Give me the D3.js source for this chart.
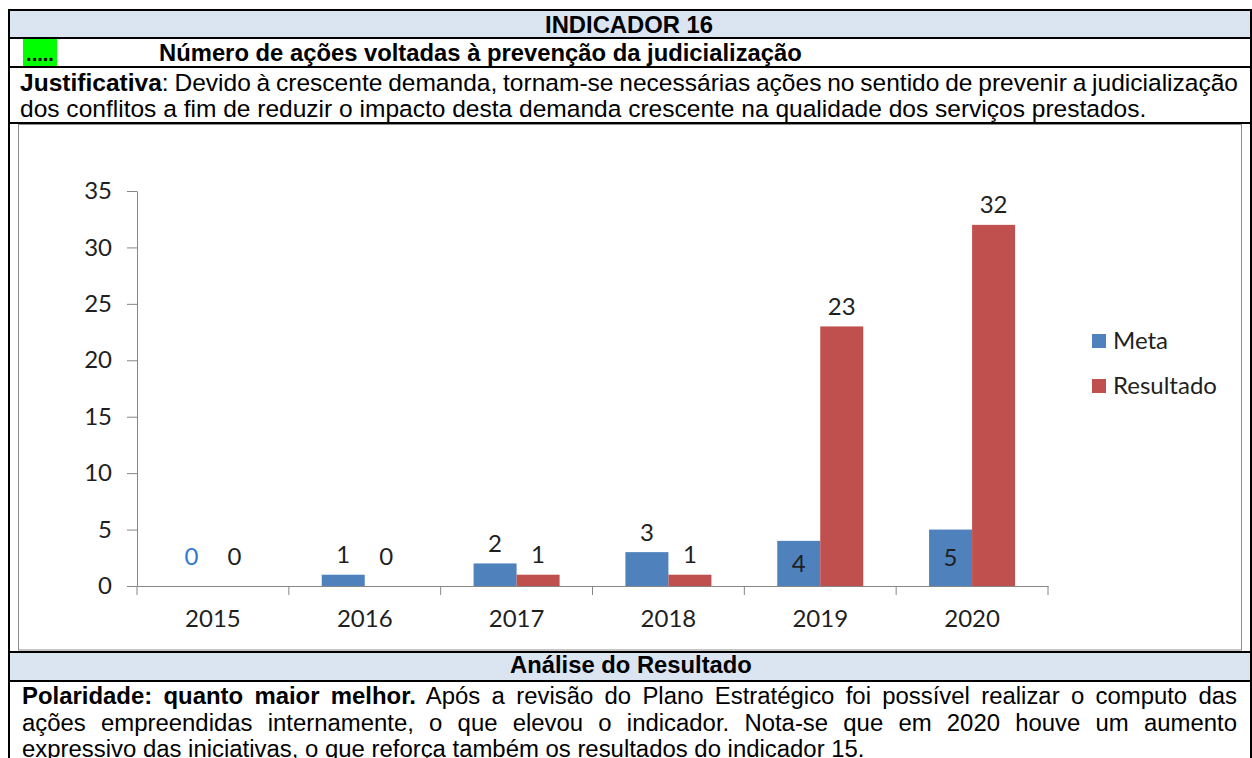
<!DOCTYPE html>
<html>
<head>
<meta charset="utf-8">
<script src="https://cdn.jsdelivr.net/npm/d3@7"></script>
<style>
  html, body { margin: 0; padding: 0; background: #fff; }
  svg { display: block; }
</style>
</head>
<body>
<div id="chart"></div>
<script>
// chart values
const years = ['2015', '2016', '2017', '2018', '2019', '2020'];
const meta = [0, 1, 2, 3, 4, 5];
const resultado = [0, 0, 1, 1, 23, 32];
const seriesNames = ['Meta', 'Resultado'];
const seriesColors = ['#4F81BD', '#C0504D'];
const yTicks = [0, 5, 10, 15, 20, 25, 30, 35];

// texts of the surrounding table
const headerTitle = 'INDICADOR 16';
const rowTitle = 'Número de ações voltadas à prevenção da judicialização';
const justLines = [
  ['Justificativa', ': Devido à crescente demanda, tornam-se necessárias ações no sentido de prevenir a judicialização'],
  ['', 'dos conflitos a fim de reduzir o impacto desta demanda crescente na qualidade dos serviços prestados.']
];
const analiseTitle = 'Análise do Resultado';
const analiseLines = [
  ['Polaridade: quanto maior melhor.', ' Após a revisão do Plano Estratégico foi possível realizar o computo das'],
  ['', 'ações empreendidas internamente, o que elevou o indicador. Nota-se que em 2020 houve um aumento'],
  ['', 'expressivo das iniciativas, o que reforça também os resultados do indicador 15.']
];

const W = 1252, H = 758;
const tableFont = '"Liberation Sans", Arial, sans-serif';
const chartFont = 'Lato, Carlito, Calibri, sans-serif';
const chartText = 24;

const svg = d3.select('#chart').append('svg')
    .attr('width', W)
    .attr('height', H);

// ---- table background and frame ----
const L = 9, R = 1251;
svg.append('rect').attr('x', L).attr('y', 10).attr('width', R - L).attr('height', 28).attr('fill', '#DBE5F1');
svg.append('rect').attr('x', L).attr('y', 652).attr('width', R - L).attr('height', 29).attr('fill', '#DBE5F1');
svg.append('rect').attr('x', 23).attr('y', 39).attr('width', 34).attr('height', 27).attr('fill', '#00FF00');

// inner chart frame
svg.append('rect')
    .attr('x', 18.5).attr('y', 124.5)
    .attr('width', 1241 - 18).attr('height', 650 - 124.5)
    .attr('fill', 'none').attr('stroke', '#8c8c8c').attr('stroke-width', 1);

const frame = svg.append('g').attr('stroke', '#000').attr('stroke-width', 2);
[10, 38, 67, 123, 652, 681].forEach(y => {
  frame.append('line').attr('x1', L - 1).attr('x2', R + 1).attr('y1', y).attr('y2', y);
});
frame.append('line').attr('x1', L).attr('x2', L).attr('y1', 9).attr('y2', H);
frame.append('line').attr('x1', R).attr('x2', R).attr('y1', 9).attr('y2', H);

// helpers for the table texts
function fitSize(sel, target) {
  const size = +sel.attr('font-size');
  const w = sel.node().getComputedTextLength();
  sel.attr('font-size', size * target / w);
}
function justify(sel, target) {
  const w = sel.node().getComputedTextLength();
  const spaces = (sel.text().match(/ /g) || []).length;
  if (spaces) sel.attr('word-spacing', (target - w) / spaces);
}
function paragraph(lines, x0, x1, last, baselines, size) {
  const texts = lines.map((ln, i) => {
    const t = svg.append('text')
        .attr('x', x0).attr('y', baselines[i])
        .attr('font-family', tableFont)
        .attr('font-size', size)
        .attr('fill', '#000');
    if (ln[0]) t.append('tspan').attr('font-weight', 'bold').text(ln[0]);
    t.append('tspan').text(ln[1]);
    return t;
  });
  // size from the last (unjustified) line, then justify the others
  const lt = texts[texts.length - 1];
  fitSize(lt, last - x0);
  const fs = lt.attr('font-size');
  texts.forEach((t, i) => {
    t.attr('font-size', fs);
    if (i < texts.length - 1) justify(t, x1 - x0);
  });
}

// header texts
const h1 = svg.append('text')
    .attr('x', 629).attr('y', 33)
    .attr('text-anchor', 'middle')
    .attr('font-family', tableFont).attr('font-weight', 'bold')
    .attr('font-size', 20).text(headerTitle);
fitSize(h1, 168);

svg.append('text')
    .attr('x', 40).attr('y', 61)
    .attr('text-anchor', 'middle')
    .attr('font-family', tableFont).attr('font-weight', 'bold')
    .attr('font-size', 20).text('.....');

const h2 = svg.append('text')
    .attr('x', 159).attr('y', 61)
    .attr('font-family', tableFont).attr('font-weight', 'bold')
    .attr('font-size', 20).text(rowTitle);
fitSize(h2, 802 - 159);

paragraph(justLines, 20, 1238, 1147, [91, 117], 20);

const h3 = svg.append('text')
    .attr('x', 631).attr('y', 673)
    .attr('text-anchor', 'middle')
    .attr('font-family', tableFont).attr('font-weight', 'bold')
    .attr('font-size', 20).text(analiseTitle);
fitSize(h3, 752 - 510);

paragraph(analiseLines, 22, 1237, 865, [704, 731, 757], 20);

// ---- bar chart ----
const y = d3.scaleLinear().domain([0, 35]).range([586, 191]);
const x = d3.scaleBand().domain(years).range([137, 1048]).paddingInner(0).paddingOuter(0);
const x1 = d3.scaleBand().domain(seriesNames).range([0, x.bandwidth()]).paddingInner(0).paddingOuter(0.765);
const color = d3.scaleOrdinal().domain(seriesNames).range(seriesColors);

const rows = years.map((yr, i) => ({
  year: yr,
  values: [
    { name: 'Meta', value: meta[i], year: yr },
    { name: 'Resultado', value: resultado[i], year: yr }
  ]
}));

const chart = svg.append('g').attr('font-family', chartFont);

// y axis
const yAxis = chart.append('g')
    .attr('transform', `translate(${x.range()[0]},0)`)
    .call(d3.axisLeft(y).tickValues(yTicks).tickSize(10).tickPadding(15).tickSizeOuter(0));
yAxis.select('.domain').attr('stroke', '#868686');
yAxis.selectAll('.tick line').attr('stroke', '#868686');
yAxis.selectAll('.tick text').attr('font-size', chartText).attr('fill', '#1f1f1f').attr('font-family', chartFont);

// bars
const groups = chart.selectAll('g.year')
    .data(rows).enter().append('g')
    .attr('class', 'year')
    .attr('transform', d => `translate(${x(d.year)},0)`);

groups.selectAll('rect')
    .data(d => d.values).enter().append('rect')
    .attr('x', d => x1(d.name))
    .attr('width', x1.bandwidth())
    .attr('y', d => y(d.value))
    .attr('height', d => y(0) - y(d.value))
    .attr('fill', d => color(d.name));

// value labels
groups.selectAll('text.val')
    .data(d => d.values).enter().append('text')
    .attr('class', 'val')
    .attr('x', d => x1(d.name) + x1.bandwidth() / 2)
    .attr('y', d => {
      if (d.name === 'Meta' && d.value >= 4) return (y(d.value) + y(0)) / 2;
      return Math.min(y(d.value), y(0) - 9) - 20;
    })
    .attr('dy', '0.35em')
    .attr('text-anchor', 'middle')
    .attr('font-size', chartText)
    .attr('fill', d => (d.year === '2015' && d.name === 'Meta') ? '#2E7BD2' : '#1f1f1f')
    .text(d => d.value);

// x axis
const xAxis = chart.append('g')
    .attr('transform', `translate(0,${y(0)})`)
    .call(d3.axisBottom(x).tickSize(0).tickPadding(24).tickSizeOuter(0));
xAxis.select('.domain').attr('stroke', '#868686');
xAxis.selectAll('.tick text').attr('font-size', chartText).attr('fill', '#1f1f1f').attr('font-family', chartFont);

// tick marks between categories
const bounds = years.map(d => x(d)).concat([x.range()[1]]);
xAxis.selectAll('line.sep')
    .data(bounds).enter().append('line')
    .attr('class', 'sep')
    .attr('x1', d => d).attr('x2', d => d)
    .attr('y1', 0).attr('y2', 9)
    .attr('stroke', '#868686');

// legend
const legend = chart.selectAll('g.legend')
    .data(seriesNames).enter().append('g')
    .attr('class', 'legend')
    .attr('transform', (d, i) => `translate(1092,${334 + i * 45})`);
legend.append('rect')
    .attr('width', 14).attr('height', 14)
    .attr('fill', d => color(d));
legend.append('text')
    .attr('x', 21).attr('y', 7)
    .attr('dy', '0.35em')
    .attr('font-size', chartText)
    .attr('fill', '#1f1f1f')
    .text(d => d);
</script>
</body>
</html>
